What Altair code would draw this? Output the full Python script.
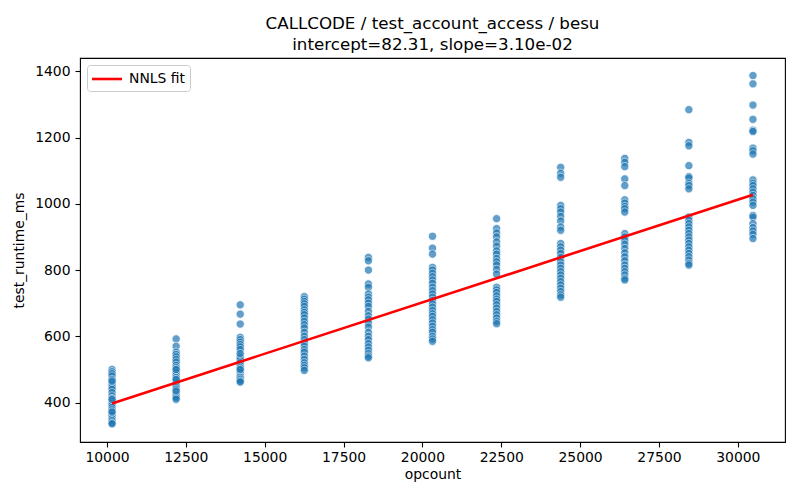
import altair as alt
import pandas as pd

opcounts = [10160, 12192, 14224, 16256, 18288, 20320, 22352, 24384, 26416, 28448, 30480]

runtimes = [
    [500, 493, 487, 480, 470, 462, 455, 447, 440, 430, 420, 412, 405, 398, 392, 385, 378, 370, 362, 352, 345, 338, 336, 372, 410, 465],
    [592, 570, 552, 545, 538, 530, 522, 512, 505, 498, 490, 482, 475, 468, 460, 452, 445, 440, 432, 425, 420, 415, 410, 435, 470, 500],
    [695, 667, 637, 597, 590, 582, 575, 568, 560, 540, 535, 528, 520, 512, 505, 498, 490, 480, 475, 470, 465, 462, 548, 500],
    [720, 712, 705, 698, 690, 680, 672, 665, 655, 645, 635, 625, 612, 600, 590, 580, 570, 560, 552, 540, 530, 520, 512, 505, 497],
    [838, 828, 800, 758, 748, 728, 718, 710, 700, 690, 675, 662, 652, 640, 628, 612, 600, 590, 578, 568, 558, 548, 540, 535],
    [902, 866, 848, 808, 800, 790, 780, 770, 760, 748, 738, 728, 718, 708, 698, 688, 678, 668, 660, 650, 640, 630, 620, 612, 600, 592, 585],
    [955, 925, 912, 900, 885, 872, 858, 848, 835, 825, 815, 802, 788, 748, 740, 732, 722, 712, 705, 695, 685, 675, 665, 655, 645, 638],
    [1110, 1092, 1080, 995, 985, 975, 962, 948, 930, 920, 880, 870, 860, 850, 838, 825, 815, 805, 795, 785, 775, 765, 755, 745, 735, 725, 718],
    [1137, 1125, 1112, 1075, 1055, 1012, 1002, 992, 985, 975, 910, 900, 890, 878, 865, 852, 840, 828, 815, 805, 795, 785, 775, 770],
    [1284, 1185, 1175, 1115, 1082, 1078, 1062, 1055, 1045, 960, 950, 940, 930, 920, 910, 900, 890, 880, 870, 860, 850, 840, 830, 820, 815],
    [1387, 1362, 1298, 1255, 1222, 1218, 1168, 1160, 1150, 1072, 1062, 1055, 1045, 1035, 1025, 1015, 1005, 995, 965, 960, 940, 928, 918, 908, 895],
]

intercept = 82.31
slope = 3.10e-02
fit_x = [opcounts[0], opcounts[-1]]

title_lines = ["CALLCODE / test_account_access / besu", "intercept=82.31, slope=3.10e-02"]

rows = []
for x, ys in zip(opcounts, runtimes):
    for y in ys:
        rows.append({"opcount": x, "test_runtime_ms": y})
pts = pd.DataFrame(rows)

fit = pd.DataFrame({
    "opcount": fit_x,
    "test_runtime_ms": [intercept + slope * v for v in fit_x],
    "series": ["NNLS fit", "NNLS fit"],
})

xscale = alt.Scale(domain=[9144, 31496], nice=False, zero=False)
yscale = alt.Scale(domain=[281, 1440], nice=False, zero=False)

xaxis = alt.Axis(values=[10000, 12500, 15000, 17500, 20000, 22500, 25000, 27500, 30000],
                 format="d", title="opcount", grid=False)
yaxis = alt.Axis(values=[400, 600, 800, 1000, 1200, 1400], format="d",
                 title="test_runtime_ms", grid=False)

scatter = alt.Chart(pts).mark_circle(
    color="#1f77b4", opacity=0.7, stroke="white", strokeWidth=0.75, size=68
).encode(
    x=alt.X("opcount:Q", scale=xscale, axis=xaxis),
    y=alt.Y("test_runtime_ms:Q", scale=yscale, axis=yaxis),
)

line = alt.Chart(fit).mark_line(strokeWidth=2.6).encode(
    x=alt.X("opcount:Q", scale=xscale),
    y=alt.Y("test_runtime_ms:Q", scale=yscale),
    color=alt.Color("series:N", scale=alt.Scale(domain=["NNLS fit"], range=["red"]),
                    legend=alt.Legend(title=None, orient="top-left", offset=7,
                                      symbolType="M-2,0H2", symbolSize=225,
                                      symbolStrokeWidth=2.6, symbolOffset=6,
                                      labelFontSize=13.9,
                                      labelFont="DejaVu Sans", labelColor="black",
                                      labelOffset=13, padding=5,
                                      fillColor="white", strokeColor="#cccccc",
                                      cornerRadius=3)),
)

chart = alt.layer(scatter, line).properties(
    width=705, height=384,
    autosize=alt.AutoSizeParams(type="none"),
    padding={"left": 72, "top": 50, "right": 7, "bottom": 50},
    title=alt.TitleParams(title_lines, anchor="middle", fontSize=16.7, font="DejaVu Sans",
                          fontWeight="normal", color="black", offset=4, lineHeight=21),
).configure_view(stroke="black", strokeWidth=1.1).configure_axis(
    domain=False, tickColor="black", tickSize=5, tickWidth=1.1,
    labelFont="DejaVu Sans", labelFontSize=13.9, labelColor="black", labelPadding=4,
    titleFont="DejaVu Sans", titleFontSize=13.9, titleColor="black", titleFontWeight="normal",
).configure_axisY(titlePadding=8, labelPadding=5).configure_axisX(titlePadding=4, labelPadding=3)

chart.save("out.html", embed_options={"renderer": "svg", "actions": False})
